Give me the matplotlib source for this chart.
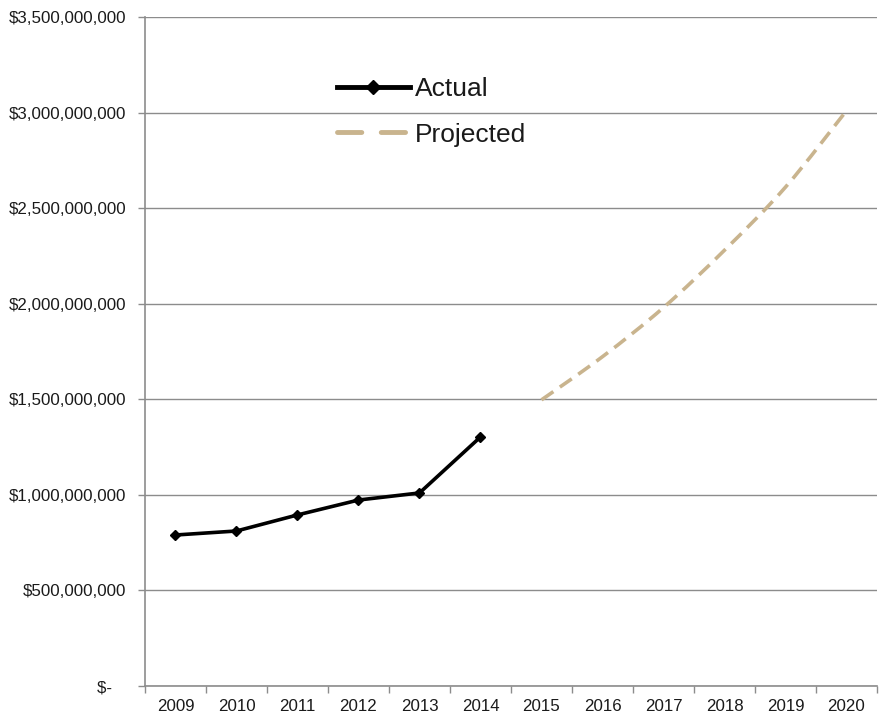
import matplotlib.pyplot as plt
from matplotlib.lines import Line2D
from matplotlib.path import Path
from matplotlib.patches import PathPatch
from matplotlib.ticker import FuncFormatter

plt.rcParams['font.family'] = ['Liberation Sans', 'DejaVu Sans']

years = ['2009', '2010', '2011', '2012', '2013', '2014',
         '2015', '2016', '2017', '2018', '2019', '2020']
actual_years = ['2009', '2010', '2011', '2012', '2013', '2014']
actual = [790e6, 811e6, 895e6, 973e6, 1010e6, 1303e6]
proj_years = ['2015', '2016', '2017', '2018', '2019', '2020']
projected = [1.497e9, 1.723e9, 1.98e9, 2.28e9, 2.61e9, 3.01e9]

grid_col = '#8c8c8c'
tan = '#c9b48e'

fig = plt.figure(figsize=(8.83, 7.14), dpi=100)
ax = fig.add_axes([0.1642, 0.0392, 0.8290, 0.9370])

xa = [years.index(y) for y in actual_years]
xp = [years.index(y) for y in proj_years]

ax.plot(xa, actual, color='black', lw=2.6, marker='D', ms=5.5, zorder=3)


# smoothed line like the spreadsheet "smooth line" option (bezier through points)
def smooth_path(xs, ys, t=1 / 6):
    verts = [(xs[0], ys[0])]
    codes = [Path.MOVETO]
    n = len(xs)
    for i in range(n - 1):
        x0, y0 = (xs[i - 1], ys[i - 1]) if i > 0 else (xs[i], ys[i])
        x1, y1 = xs[i], ys[i]
        x2, y2 = xs[i + 1], ys[i + 1]
        x3, y3 = (xs[i + 2], ys[i + 2]) if i + 2 < n else (x2, y2)
        c1 = (x1 + (x2 - x0) * t, y1 + (y2 - y0) * t)
        c2 = (x2 - (x3 - x1) * t, y2 - (y3 - y1) * t)
        verts += [c1, c2, (x2, y2)]
        codes += [Path.CURVE4] * 3
    return Path(verts, codes)


proj_patch = PathPatch(smooth_path(xp, projected), fill=False, edgecolor=tan,
                       lw=2.6, linestyle=(0, (4, 2.2)), zorder=3)
ax.add_patch(proj_patch)

ax.set_xlim(-0.5, len(years) - 0.5)
ax.set_ylim(0, 3.5e9)
ax.set_yticks([i * 0.5e9 for i in range(8)])


def money(v, pos):
    if v == 0:
        return '$-   '
    return '${:,.0f}'.format(v)


ax.yaxis.set_major_formatter(FuncFormatter(money))
ax.grid(axis='y', color=grid_col, lw=1)
ax.set_axisbelow(True)

ax.set_xticks(range(len(years)))
ax.set_xticklabels(years)
ax.set_xticks([i - 0.5 for i in range(len(years) + 1)], minor=True)
ax.tick_params(axis='x', which='major', length=0, pad=9, labelsize=12.2, labelcolor='#1a1a1a')
ax.tick_params(axis='x', which='minor', length=5, color=grid_col, width=1)
ax.tick_params(axis='y', length=5, color=grid_col, width=1, pad=8.5, labelsize=12.2, labelcolor='#1a1a1a')

for s in ['top', 'right']:
    ax.spines[s].set_visible(False)
for s in ['left', 'bottom']:
    ax.spines[s].set_color(grid_col)
    ax.spines[s].set_linewidth(1.2)

handles = [Line2D([], [], color='black', lw=3.5, marker='D', ms=7),
           Line2D([], [], color=tan, lw=3.5, dashes=(5, 4), dash_capstyle='round')]
fig.legend(handles, ['Actual', 'Projected'], loc='upper left',
           bbox_to_anchor=(337 / 883, 1 - 77 / 714), frameon=False,
           fontsize=19, handlelength=2.75, handletextpad=0.2,
           borderpad=0, borderaxespad=0, labelspacing=0.82,
           labelcolor='#1a1a1a')

fig.savefig('out.png', dpi=100)
